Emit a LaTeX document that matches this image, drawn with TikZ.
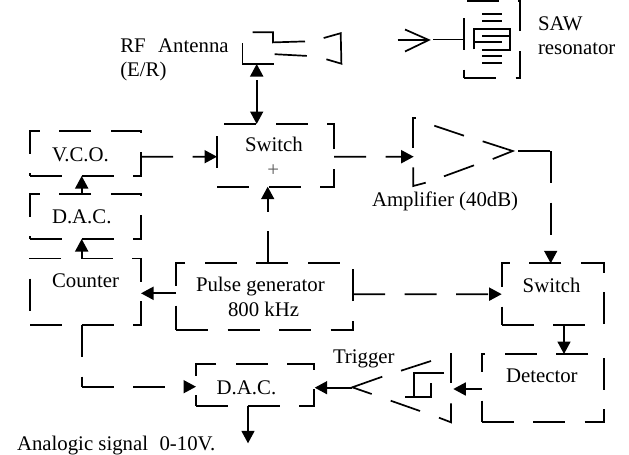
\documentclass[tikz,border=0pt]{standalone}
\usepackage{fontspec}
\setmainfont{Liberation Serif}
\usetikzlibrary{arrows.meta}
\newcommand{\frameNode}[2][]{\draw[boxline,#1] (#2.south west) -- (#2.south east) -- (#2.north east) -- (#2.north west) -- cycle;}
\tikzset{
  ink/.style={line width=1.7pt,line join=miter},
  boxline/.style={ink,dash pattern=on 32pt off 19.5pt},
  dashbox/.style={rectangle,inner sep=0pt,outer sep=0pt},
  conn/.style={ink,dash pattern=on 32pt off 19.5pt,-{Triangle[length=12.5pt,width=13pt]}},
  lab/.style={anchor=base west,inner sep=0pt,outer sep=0pt,font=\fontsize{20.8pt}{24pt}\selectfont}
}
\begin{document}
\begin{tikzpicture}[x=1pt,y=-1pt]
\useasboundingbox (0,0) rectangle (629,455);
\fill[white] (0,0) rectangle (629,455);
% boxes
\node[dashbox,minimum width=111pt,minimum height=45pt] (vco) at (85.5,153.5) {};
\node[dashbox,minimum width=111pt,minimum height=45pt] (dacA) at (85.5,216.5) {};
\node[dashbox,minimum width=111pt,minimum height=66.7pt] (ctr) at (85.5,291.7) {};
\node[dashbox,minimum width=117pt,minimum height=62.7pt] (swA) at (275.5,155.35) {};
\node[dashbox,minimum width=177pt,minimum height=67pt] (pg) at (264.5,296.5) {};
\node[dashbox,minimum width=102pt,minimum height=61.7pt] (swB) at (552.7,294.15) {};
\node[dashbox,minimum width=122pt,minimum height=68.3pt] (det) at (542.7,388.15) {};
\node[dashbox,minimum width=117.7pt,minimum height=42.3pt] (dacB) at (254.85,385.15) {};
\node[dashbox,minimum width=56pt,minimum height=77pt] (saw) at (492,39.5) {};
\frameNode{vco}
\frameNode{dacA}
\frameNode{ctr}
\frameNode{swA}
\frameNode{pg}
\frameNode{swB}
\frameNode[dash pattern=on 32pt off 19.5pt on 32pt off 19.5pt on 32pt off 19.5pt on 32pt off 19.5pt on 32pt off 19.5pt on 32pt off 19.5pt on 21pt off 29pt on 32pt off 100pt]{det}
\frameNode{dacB}
\frameNode{saw}
% labels
\node[lab] (tAnt) at (120.3,52.5) {RF\hspace{0.35em} Antenna};
\node[lab] (tEr) at (120.3,76) {(E/R)};
\node[lab] (tSaw) at (538,30) {SAW};
\node[lab] (tRes) at (538,54) {resonator};
\node[lab] (tVco) at (52,161.7) {V.C.O.};
\node[lab] (tDacA) at (52,223) {D.A.C.};
\node[lab] (tCtr) at (52,287.7) {Counter};
\node[lab] (tSwA) at (245,151.7) {Switch};
\node[lab,text=black!65] (tPlus) at (267.4,176) {+};
\node[lab] (tAmp) at (372,206) {Amplifier (40dB)};
\node[lab] (tPg) at (196,291.7) {Pulse generator};
\node[lab] (tKhz) at (228,316.7) {800 kHz};
\node[lab] (tSwB) at (522.7,292.7) {Switch};
\node[lab] (tTrig) at (333,363) {Trigger};
\node[lab] (tDet) at (506,382.7) {Detector};
\node[lab] (tDacB) at (216.7,394) {D.A.C.};
\node[lab] (tAna) at (17,450) {Analogic signal\hspace{0.3em} 0-10V.};
% free connector ends
\coordinate (antIn) at (256.7,64);
\coordinate (sawIn) at (433,39.5);
\coordinate (ampIn) at (413.7,156.7);
\coordinate (ampOut) at (518,151);
\coordinate (ampCorner) at (550.7,151);
\coordinate (trigIn) at (453.3,389);
\coordinate (trigOut) at (352.3,387.7);
\coordinate (sigOut) at (248,443.3);
\coordinate (ctrCorner) at (81.7,386.7);
% connectors
\draw[conn,{Triangle[length=12.5pt,width=13pt]}-{Triangle[length=12.5pt,width=13pt]},dash pattern=on 0pt off 4pt on 200pt] (antIn) -- ([xshift=-18.8pt]swA.north);
\draw[ink] (sawIn) -- ([yshift=0pt]saw.west);
\draw[conn] ([yshift=-3.2pt]vco.east) -- ([yshift=-1.35pt]swA.west);
\draw[conn] ([yshift=-1.35pt]swA.east) -- (ampIn);
\draw[conn] (ampOut) -- (ampCorner) (ampCorner) -- ([xshift=-2pt]swB.north);
\draw[conn] ([xshift=-3.8pt]dacA.north) -- ([xshift=-3.8pt]vco.south);
\draw[conn] ([xshift=-3.8pt]ctr.north) -- ([xshift=-3.8pt]dacA.south);
\draw[conn] ([xshift=3.2pt]pg.north) -- ([xshift=-7.8pt]swA.south);
\draw[conn] ([yshift=3.2pt]pg.west) -- ([yshift=-1.6pt]ctr.east);
\draw[conn] ([yshift=2.2pt]pg.east) -- ([yshift=0pt]swB.west);
\draw[conn] ([xshift=11.3pt]swB.south) -- ([xshift=21.3pt]det.north);
\draw[conn] ([yshift=-0.85pt]det.west) -- (trigIn);
\draw[conn] (trigOut) -- ([xshift=1pt,yshift=-2.55pt]dacB.east);
\draw[conn] ([xshift=-6.85pt]dacB.south) -- (sigOut);
\draw[conn] ([xshift=-3.8pt]ctr.south) -- (ctrCorner) (ctrCorner) -- ([yshift=-1.55pt]dacB.west);
% antenna
\draw[ink] (252.5,32.2) -- (272.9,32.2) -- (272.9,42.4) -- (305,41.4);
\draw[ink] (242.4,43.4) -- (242.4,63.7) -- (273.9,63.7);
\draw[ink] (274.6,54.2) -- (306.8,55.9);
\draw[ink] (323.7,38) -- (340.7,33.2) -- (341.4,63.7) -- (326.4,59.3);
% open arrow before the resonator
\draw[ink] (397.6,40) -- (428.8,40);
\draw[ink] (405,29.5) -- (428.8,40) -- (405,51.5);
% resonator combs
\draw[ink] (482.3,14.3) -- (501.7,14.3);
\draw[ink] (482.3,21.3) -- (501.7,21.3);
\draw[ink] (474.3,49.3) -- (474.3,28.7) -- (510,28.7) -- (510,50) -- (482.3,50);
\draw[ink] (482.3,35.7) -- (510,35.7);
\draw[ink] (474.3,42.3) -- (501.7,42.3);
\draw[ink] (482.3,56) -- (501.7,56);
\draw[ink] (482.3,63) -- (501.7,63);
% amplifier
\draw[ink] (415.5,118.3) -- (413.3,118.3) -- (413.3,148.3);
\draw[ink] (413.3,167.3) -- (413.3,186) -- (425.7,182.7);
\draw[ink] (434.3,125.7) -- (464,135.7);
\draw[ink] (482.7,141.3) -- (512.7,151) -- (492.7,159);
\draw[ink] (474,165.3) -- (444,176.3);
% trigger
\draw[ink] (451,353.3) -- (451,383.3);
\draw[ink] (451,403.3) -- (451,422.3) -- (439,417.7);
\draw[ink] (420,411) -- (390.7,400.7);
\draw[ink] (371.7,394) -- (352.3,387.3) -- (382.3,376.7);
\draw[ink] (401,370.7) -- (431,361);
\draw[ink] (444,373.3) -- (414.3,373.3) -- (414.3,396.7);
\draw[ink] (405,396.7) -- (431,396.7) -- (431,383.3);
\end{tikzpicture}
\end{document}
